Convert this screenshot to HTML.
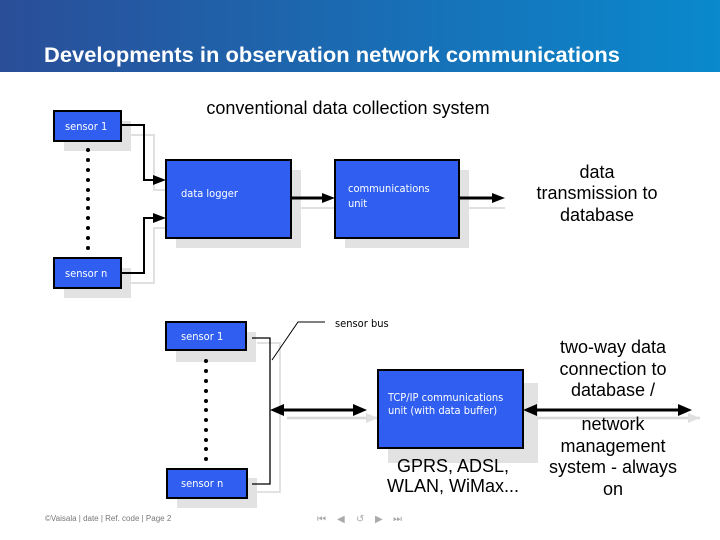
<!DOCTYPE html>
<html><head><meta charset="utf-8"><style>
html,body{margin:0;padding:0;width:720px;height:540px;overflow:hidden;background:#fff}
svg{display:block}
.bx{fill:#2f5ef0;stroke:#000;stroke-width:2}
.sh{fill:#e2e2e2}
.bt{font-family:"DejaVu Sans Condensed","DejaVu Sans",sans-serif;font-size:11px;fill:#fff}
.lt{font-family:"Liberation Sans",sans-serif;font-size:18px;fill:#000;text-anchor:middle}
</style></head><body>
<svg width="720" height="540" viewBox="0 0 720 540" xmlns="http://www.w3.org/2000/svg">
<defs>
<linearGradient id="hg" x1="0" x2="1" y1="0" y2="0"><stop offset="0" stop-color="#2a4e98"/><stop offset="1" stop-color="#0a89cd"/></linearGradient>
</defs>
<rect x="0" y="0" width="720" height="72" fill="url(#hg)"/>
<text x="44" y="62" font-family="Liberation Sans,sans-serif" font-size="21" font-weight="bold" fill="#fff" textLength="576" lengthAdjust="spacingAndGlyphs">Developments in observation network communications</text>

<text x="348" y="114" class="lt">conventional data collection system</text>

<g stroke="#e0e0e0" stroke-width="2" fill="none">
<polyline points="131,135 154,135 154,190 166,190"/>
<polyline points="131,283 154,283 154,228 166,228"/>
<line x1="291" y1="208" x2="335" y2="208"/>
<line x1="459" y1="208" x2="505" y2="208"/>
</g>
<rect class="sh" x="64" y="121" width="67" height="30"/>
<rect class="sh" x="64" y="268" width="67" height="30"/>
<rect class="sh" x="176" y="170" width="125" height="78"/>
<rect class="sh" x="345" y="170" width="124" height="78"/>
<g fill="#000">
<circle cx="88" cy="150" r="2"/><circle cx="88" cy="160" r="2"/><circle cx="88" cy="170" r="2"/><circle cx="88" cy="180" r="2"/><circle cx="88" cy="190" r="2"/><circle cx="88" cy="199" r="2"/><circle cx="88" cy="208" r="2"/><circle cx="88" cy="218" r="2"/><circle cx="88" cy="228" r="2"/><circle cx="88" cy="238" r="2"/><circle cx="88" cy="248" r="2"/>
</g>
<rect class="bx" x="54" y="111" width="67" height="30"/>
<text x="65" y="130" class="bt">sensor 1</text>
<rect class="bx" x="54" y="258" width="67" height="30"/>
<text x="65" y="277" class="bt">sensor n</text>
<g stroke="#000" stroke-width="2" fill="none">
<polyline points="121,125 144,125 144,180 155,180"/>
<polyline points="121,273 144,273 144,218 155,218"/>
<line x1="291" y1="198" x2="325" y2="198" stroke-width="3"/>
<line x1="459" y1="198" x2="495" y2="198" stroke-width="3"/>
</g>
<g fill="#000">
<polygon points="153,175 166,180 153,185"/>
<polygon points="153,213 166,218 153,223"/>
<polygon points="322,193 335,198 322,203"/>
<polygon points="492,193 505,198 492,203"/>
</g>
<rect class="bx" x="166" y="160" width="125" height="78"/>
<text x="181" y="197" class="bt">data logger</text>
<rect class="bx" x="335" y="160" width="124" height="78"/>
<text x="348" y="192" class="bt">communications</text>
<text x="348" y="207" class="bt">unit</text>
<text x="597" y="178" class="lt">data</text>
<text x="597" y="199" class="lt">transmission to</text>
<text x="597" y="221" class="lt">database</text>

<g stroke="#d8d8d8" stroke-width="1.5" fill="none">
<polyline points="257,343 280,343 280,492 257,492"/>
<line x1="287" y1="418" x2="378" y2="418" stroke-width="2.5"/>
<line x1="533" y1="418" x2="700" y2="418" stroke-width="2.5"/>
</g>
<polygon points="366,413 378,418 366,423" fill="#e0e0e0"/>
<polygon points="688,413 700,418 688,423" fill="#e0e0e0"/>
<rect class="sh" x="176" y="332" width="80" height="30"/>
<rect class="sh" x="177" y="478" width="80" height="30"/>
<rect class="sh" x="388" y="383" width="150" height="80"/>
<g fill="#000">
<circle cx="206" cy="361" r="2"/><circle cx="206" cy="371" r="2"/><circle cx="206" cy="381" r="2"/><circle cx="206" cy="391" r="2"/><circle cx="206" cy="401" r="2"/><circle cx="206" cy="410" r="2"/><circle cx="206" cy="420" r="2"/><circle cx="206" cy="430" r="2"/><circle cx="206" cy="440" r="2"/><circle cx="206" cy="449" r="2"/><circle cx="206" cy="459" r="2"/>
</g>
<rect class="bx" x="166" y="322" width="80" height="28"/>
<text x="181" y="340" class="bt">sensor 1</text>
<rect class="bx" x="167" y="469" width="80" height="29"/>
<text x="181" y="487" class="bt">sensor n</text>
<g stroke="#000" fill="none">
<polyline points="252,338 270,338 270,484 252,484" stroke-width="1.3"/>
<polyline points="272,360 298,322 325,322" stroke-width="1"/>
<line x1="282" y1="410" x2="356" y2="410" stroke-width="3"/>
<line x1="535" y1="410" x2="682" y2="410" stroke-width="3"/>
</g>
<g fill="#000">
<polygon points="284,404 270,410 284,416"/>
<polygon points="353,404 367,410 353,416"/>
<polygon points="537,404 523,410 537,416"/>
<polygon points="678,404 692,410 678,416"/>
</g>
<text x="335" y="327" font-family="DejaVu Sans Condensed,DejaVu Sans,sans-serif" font-size="11" fill="#000">sensor bus</text>
<rect class="bx" x="378" y="370" width="145" height="78"/>
<text x="388" y="401" class="bt">TCP/IP communications</text>
<text x="388" y="414" class="bt">unit (with data buffer)</text>
<text x="453" y="472" class="lt" font-size="17">GPRS, ADSL,</text>
<text x="453" y="492" class="lt" font-size="17">WLAN, WiMax...</text>
<text x="613" y="353" class="lt">two-way data</text>
<text x="613" y="375" class="lt">connection to</text>
<text x="613" y="396" class="lt">database /</text>
<text x="613" y="430" class="lt">network</text>
<text x="613" y="452" class="lt">management</text>
<text x="613" y="473" class="lt">system - always</text>
<text x="613" y="495" class="lt">on</text>

<text x="45" y="521" font-family="Liberation Sans,sans-serif" font-size="8" fill="#777">©Vaisala | date | Ref. code | Page 2</text>
<g fill="#aaa" font-family="DejaVu Sans,sans-serif" font-size="10">
<text x="317" y="522">⏮</text><text x="337" y="522">◀</text><text x="356" y="522">↺</text><text x="375" y="522">▶</text><text x="393" y="522">⏭</text>
</g>
</svg>
</body></html>
